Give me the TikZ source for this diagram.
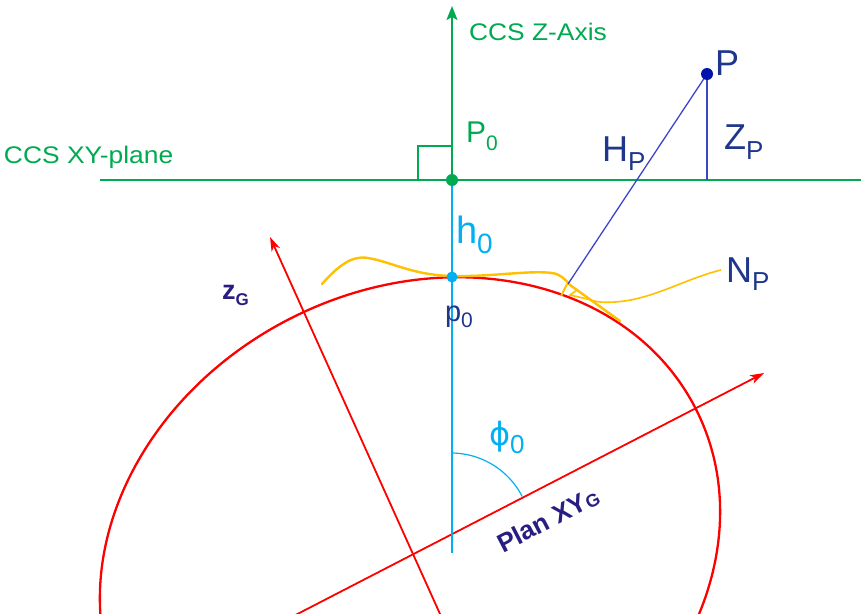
\documentclass[tikz,border=0pt]{standalone}
\usepackage{fontspec}
\setmainfont{Liberation Sans}
\newfontfamily\greekfont{DejaVu Sans}
\usetikzlibrary{arrows.meta}
\definecolor{ccsgreen}{RGB}{0,170,80}
\definecolor{ccscyan}{RGB}{0,176,240}
\definecolor{navytext}{RGB}{30,55,140}
\definecolor{indigotext}{RGB}{40,30,130}
\definecolor{pdotblue}{RGB}{0,20,170}
\definecolor{pline}{RGB}{60,70,200}
\definecolor{geoyellow}{RGB}{255,192,0}
\definecolor{geored}{RGB}{255,0,0}
\newcommand{\lowsub}[3]{\raisebox{-#2pt}{\fontsize{#1}{#1}\selectfont #3}}
\newcommand{\fsz}[1]{\fontsize{#1}{#1}\selectfont}
\begin{document}
\begin{tikzpicture}[x=1pt,y=-1pt,
  lbl/.style={inner sep=0pt, outer sep=0pt, anchor=base west},
  greenline/.style={draw=ccsgreen, line width=2.4pt},
  redaxis/.style={draw=geored, line width=1.8pt, -{Stealth[length=14pt,width=9pt,inset=4pt]}},
  bluethin/.style={draw=pline, line width=1.3pt},
  yellowline/.style={draw=geoyellow, line width=2.4pt, line cap=round, line join=round}]
\useasboundingbox (0,0) rectangle (861,613);
\clip (0,0) rectangle (861,613);

% coordinates
\coordinate (O) at (452,180);
\coordinate (Ztip) at (452,6);
\coordinate (XYleft) at (100,180);
\coordinate (XYright) at (861,180);
\coordinate (RA1) at (418,180);
\coordinate (RA2) at (418,146);
\coordinate (RA3) at (452,146);
\coordinate (Pp) at (707,74);
\coordinate (Pfoot) at (707,180);
\coordinate (Hfoot) at (568,284);
\coordinate (p0) at (452,277);
\coordinate (cyanend) at (452,553);
\coordinate (C) at (410,555);
\coordinate (zGstart) at (445,625);
\coordinate (zGtip) at (270,237);
\coordinate (XYGstart) at (280,623);
\coordinate (XYGtip) at (764,373);

% red ellipse (earth)
\draw[geored, line width=2.3pt, rotate around={27.3:(C)}] (C) ellipse [x radius=321, y radius=265];

% red axes
\draw[redaxis] (zGstart) -- (zGtip);
\draw[redaxis] (XYGstart) -- (XYGtip);

% green plane and axis
\draw[greenline] (XYleft) -- (XYright);
\draw[draw=ccsgreen, line width=2pt, -{Stealth[length=14pt,width=11pt,inset=3pt]}] (O) -- (Ztip);
\draw[draw=ccsgreen, line width=2pt] (RA1) -- (RA2) -- (RA3);

% cyan vertical
\draw[draw=ccscyan, line width=2.4pt] (O) -- (cyanend);

% phi arc
\draw[draw=ccscyan, line width=1.2pt] plot[domain=-90:-27.2, samples=40, smooth] ({451+80*cos(\x)},{533+80*sin(\x)});

% yellow geoid
\draw[yellowline] (322,284) .. controls (338,266) and (352,255) .. (368,258)
   .. controls (392,262) and (412,275) .. (452,276)
   .. controls (490,277) and (530,270) .. (552,273)
   .. controls (560,274) and (565,279) .. (570,285) -- (620,321);
\draw[draw=geoyellow, line width=2pt] (567,284) -- (561,296);
\draw[draw=geoyellow, line width=1.6pt, line join=miter] (721,270) .. controls (680,280) and (645,305) .. (600,302)
   .. controls (592,301) and (588,299) .. (583,298) -- (570,295) -- (577,290);

% blue lines from P
\draw[bluethin] (Pp) -- (Hfoot);
\draw[bluethin, line width=1.6pt] (Pp) -- (Pfoot);

% dots
\fill[ccsgreen] (O) circle[radius=6];
\fill[ccscyan] (p0) circle[radius=5.5];
\fill[pdotblue] (Pp) circle[radius=6];

% labels
\node[lbl, text=ccsgreen, xscale=1.1] (zaxislbl) at (469,40) {\fsz{24}CCS Z-Axis};
\node[lbl, text=ccsgreen, xscale=1.1] (xyplanelbl) at (4,163) {\fsz{24}CCS XY-plane};
\node[lbl, text=ccsgreen] (P0lbl) at (466,142) {\fsz{30}P\lowsub{21}{8}{0}};
\node[lbl, text=navytext] (Plbl) at (715,75) {\fsz{36}P};
\node[lbl, text=navytext] (HPlbl) at (602,161) {\fsz{36}H\lowsub{26}{9}{P}};
\node[lbl, text=navytext] (ZPlbl) at (724,149) {\fsz{36}Z\lowsub{26}{10}{P}};
\node[lbl, text=navytext] (NPlbl) at (726,282) {\fsz{36}N\lowsub{26}{8}{P}};
\node[lbl, text=ccscyan] (h0lbl) at (456,243) {\fsz{38}h\lowsub{28}{10}{0}};
\node[lbl, text=navytext] (p0lbl) at (445,321) {\fsz{29}p\lowsub{21}{6}{0}};
\node[lbl, text=ccscyan] (philbl) at (489,445) {\fsz{32}{\greekfont ϕ}\lowsub{26}{8}{0}};
\node[lbl, text=indigotext] (zGlbl) at (222,299) {\fsz{27}\bfseries z\lowsub{17}{6}{G}};
\node[lbl, text=indigotext, rotate=27.3] (planlbl) at (503,553) {\fsz{26}\bfseries Plan XY\lowsub{18}{1}{G}};
\end{tikzpicture}
\end{document}
